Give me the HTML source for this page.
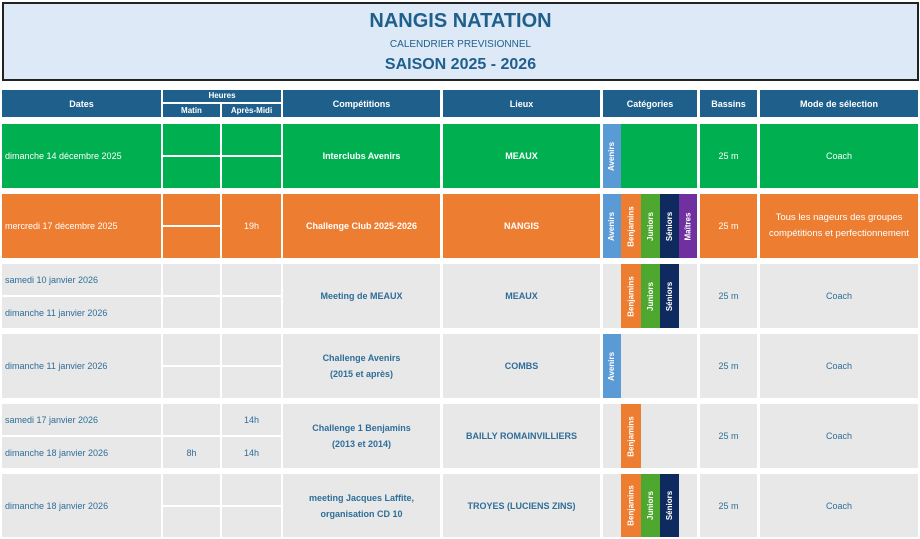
<!DOCTYPE html>
<html><head><meta charset="utf-8"><style>
body{margin:0;width:920px;height:539px;background:#fff;position:relative;overflow:hidden;font-family:"Liberation Sans",sans-serif}
.a{position:absolute;box-sizing:border-box;display:flex;align-items:center;justify-content:center;text-align:center;font-size:9px;line-height:14px}
.h{background:#1f5f8b;color:#fff;font-weight:bold;font-size:9px}
.g{background:#00b050;color:#fff}
.o{background:#ed7d31;color:#fff}
.e{background:#e8e8e8;color:#2e6e99}
.l{justify-content:flex-start;padding-left:3px}
.b{font-weight:bold}
.c{position:absolute;color:#fff;font-weight:bold;font-size:8px;display:flex;align-items:center;justify-content:center}
.c span{transform:rotate(-90deg);white-space:nowrap}
.av{background:#5b9bd5}.bj{background:#ed7d31}.ju{background:#4ea72e}.se{background:#0e2a5e}.ma{background:#7030a0}
</style></head><body>
<div class="a" style="left:2px;top:2px;width:917px;height:79px;background:#dde9f6;border:2px solid #222;flex-direction:column;color:#1f5f8b">
<div style="font-size:20px;font-weight:bold;line-height:24px">NANGIS NATATION</div>
<div style="font-size:10px;line-height:20px;margin-top:2px">CALENDRIER PREVISIONNEL</div>
<div style="font-size:16px;font-weight:bold;line-height:20px">SAISON 2025 - 2026</div>
</div>
<!-- header -->
<div class="a h" style="left:2px;top:90px;width:159px;height:27px">Dates</div>
<div class="a h" style="left:163px;top:90px;width:118px;height:12px;font-size:8px">Heures</div>
<div class="a h" style="left:163px;top:104px;width:57px;height:13px;font-size:8px">Matin</div>
<div class="a h" style="left:222px;top:104px;width:59px;height:13px;font-size:8px">Après-Midi</div>
<div class="a h" style="left:283px;top:90px;width:157px;height:27px">Compétitions</div>
<div class="a h" style="left:443px;top:90px;width:157px;height:27px">Lieux</div>
<div class="a h" style="left:603px;top:90px;width:94px;height:27px">Catégories</div>
<div class="a h" style="left:700px;top:90px;width:57px;height:27px">Bassins</div>
<div class="a h" style="left:760px;top:90px;width:158px;height:27px">Mode de sélection</div>

<!-- row1 green 124-188 -->
<div class="a g l" style="left:2px;top:124px;width:159px;height:64px">dimanche 14 décembre 2025</div>
<div class="a g" style="left:163px;top:124px;width:57px;height:31px"></div>
<div class="a g" style="left:163px;top:157px;width:57px;height:31px"></div>
<div class="a g" style="left:222px;top:124px;width:59px;height:31px"></div>
<div class="a g" style="left:222px;top:157px;width:59px;height:31px"></div>
<div class="a g b" style="left:283px;top:124px;width:157px;height:64px">Interclubs Avenirs</div>
<div class="a g b" style="left:443px;top:124px;width:157px;height:64px">MEAUX</div>
<div class="a g" style="left:603px;top:124px;width:94px;height:64px"></div>
<div class="c av" style="left:603px;top:124px;width:18px;height:64px"><span>Avenirs</span></div>
<div class="a g" style="left:700px;top:124px;width:57px;height:64px">25 m</div>
<div class="a g" style="left:760px;top:124px;width:158px;height:64px">Coach</div>

<!-- row2 orange 194-258 -->
<div class="a o l" style="left:2px;top:194px;width:159px;height:64px">mercredi 17 décembre 2025</div>
<div class="a o" style="left:163px;top:194px;width:57px;height:31px"></div>
<div class="a o" style="left:163px;top:227px;width:57px;height:31px"></div>
<div class="a o" style="left:222px;top:194px;width:59px;height:64px">19h</div>
<div class="a o b" style="left:283px;top:194px;width:157px;height:64px">Challenge Club 2025-2026</div>
<div class="a o b" style="left:443px;top:194px;width:157px;height:64px">NANGIS</div>
<div class="c av" style="left:603px;top:194px;width:18px;height:64px"><span>Avenirs</span></div>
<div class="c bj" style="left:621px;top:194px;width:20px;height:64px"><span>Benjamins</span></div>
<div class="c ju" style="left:641px;top:194px;width:19px;height:64px"><span>Juniors</span></div>
<div class="c se" style="left:660px;top:194px;width:19px;height:64px"><span>Séniors</span></div>
<div class="c ma" style="left:679px;top:194px;width:18px;height:64px"><span>Maîtres</span></div>
<div class="a o" style="left:700px;top:194px;width:57px;height:64px">25 m</div>
<div class="a o" style="left:760px;top:194px;width:158px;height:64px;font-size:9.5px;line-height:16px">Tous les nageurs des groupes<br>compétitions et perfectionnement</div>

<!-- row3 264-328 -->
<div class="a e l" style="left:2px;top:264px;width:159px;height:31px">samedi 10 janvier 2026</div>
<div class="a e l" style="left:2px;top:297px;width:159px;height:31px">dimanche 11 janvier 2026</div>
<div class="a e" style="left:163px;top:264px;width:57px;height:31px"></div>
<div class="a e" style="left:163px;top:297px;width:57px;height:31px"></div>
<div class="a e" style="left:222px;top:264px;width:59px;height:31px"></div>
<div class="a e" style="left:222px;top:297px;width:59px;height:31px"></div>
<div class="a e b" style="left:283px;top:264px;width:157px;height:64px">Meeting de MEAUX</div>
<div class="a e b" style="left:443px;top:264px;width:157px;height:64px">MEAUX</div>
<div class="a e" style="left:603px;top:264px;width:94px;height:64px"></div>
<div class="c bj" style="left:621px;top:264px;width:20px;height:64px"><span>Benjamins</span></div>
<div class="c ju" style="left:641px;top:264px;width:19px;height:64px"><span>Juniors</span></div>
<div class="c se" style="left:660px;top:264px;width:19px;height:64px"><span>Séniors</span></div>
<div class="a e" style="left:700px;top:264px;width:57px;height:64px">25 m</div>
<div class="a e" style="left:760px;top:264px;width:158px;height:64px">Coach</div>

<!-- row4 334-398 -->
<div class="a e l" style="left:2px;top:334px;width:159px;height:64px">dimanche 11 janvier 2026</div>
<div class="a e" style="left:163px;top:334px;width:57px;height:31px"></div>
<div class="a e" style="left:163px;top:367px;width:57px;height:31px"></div>
<div class="a e" style="left:222px;top:334px;width:59px;height:31px"></div>
<div class="a e" style="left:222px;top:367px;width:59px;height:31px"></div>
<div class="a e b" style="left:283px;top:334px;width:157px;height:64px;line-height:16px">Challenge Avenirs<br>(2015 et après)</div>
<div class="a e b" style="left:443px;top:334px;width:157px;height:64px">COMBS</div>
<div class="a e" style="left:603px;top:334px;width:94px;height:64px"></div>
<div class="c av" style="left:603px;top:334px;width:18px;height:64px"><span>Avenirs</span></div>
<div class="a e" style="left:700px;top:334px;width:57px;height:64px">25 m</div>
<div class="a e" style="left:760px;top:334px;width:158px;height:64px">Coach</div>

<!-- row5 404-468 -->
<div class="a e l" style="left:2px;top:404px;width:159px;height:31px">samedi 17 janvier 2026</div>
<div class="a e l" style="left:2px;top:437px;width:159px;height:31px">dimanche 18 janvier 2026</div>
<div class="a e" style="left:163px;top:404px;width:57px;height:31px"></div>
<div class="a e" style="left:163px;top:437px;width:57px;height:31px">8h</div>
<div class="a e" style="left:222px;top:404px;width:59px;height:31px">14h</div>
<div class="a e" style="left:222px;top:437px;width:59px;height:31px">14h</div>
<div class="a e b" style="left:283px;top:404px;width:157px;height:64px;line-height:16px">Challenge 1 Benjamins<br>(2013 et 2014)</div>
<div class="a e b" style="left:443px;top:404px;width:157px;height:64px">BAILLY ROMAINVILLIERS</div>
<div class="a e" style="left:603px;top:404px;width:94px;height:64px"></div>
<div class="c bj" style="left:621px;top:404px;width:20px;height:64px"><span>Benjamins</span></div>
<div class="a e" style="left:700px;top:404px;width:57px;height:64px">25 m</div>
<div class="a e" style="left:760px;top:404px;width:158px;height:64px">Coach</div>

<!-- row6 474-537 -->
<div class="a e l" style="left:2px;top:474px;width:159px;height:63px">dimanche 18 janvier 2026</div>
<div class="a e" style="left:163px;top:474px;width:57px;height:31px"></div>
<div class="a e" style="left:163px;top:507px;width:57px;height:30px"></div>
<div class="a e" style="left:222px;top:474px;width:59px;height:31px"></div>
<div class="a e" style="left:222px;top:507px;width:59px;height:30px"></div>
<div class="a e b" style="left:283px;top:474px;width:157px;height:63px;line-height:16px">meeting Jacques Laffite,<br>organisation CD 10</div>
<div class="a e b" style="left:443px;top:474px;width:157px;height:63px">TROYES (LUCIENS ZINS)</div>
<div class="a e" style="left:603px;top:474px;width:94px;height:63px"></div>
<div class="c bj" style="left:621px;top:474px;width:20px;height:63px"><span>Benjamins</span></div>
<div class="c ju" style="left:641px;top:474px;width:19px;height:63px"><span>Juniors</span></div>
<div class="c se" style="left:660px;top:474px;width:19px;height:63px"><span>Séniors</span></div>
<div class="a e" style="left:700px;top:474px;width:57px;height:63px">25 m</div>
<div class="a e" style="left:760px;top:474px;width:158px;height:63px">Coach</div>
</body></html>
